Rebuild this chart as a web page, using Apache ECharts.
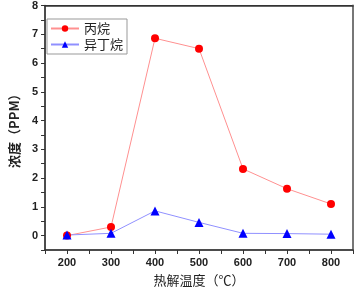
<!DOCTYPE html>
<html>
<head>
<meta charset="utf-8">
<script src="https://cdn.jsdelivr.net/npm/echarts@6/dist/echarts.min.js"></script>
<style>
  html, body { margin: 0; padding: 0; background: #fff; }
  #chart { width: 356px; height: 292px; }
</style>
</head>
<body>
<div id="chart"></div>
<script>
// 热解温度 (℃)
const temps = [200, 300, 400, 500, 600, 700, 800]
// 浓度 (PPM)
const propane = [0, 0.3, 6.86, 6.5, 2.32, 1.63, 1.1]
const isobutane = [0.02, 0.08, 0.86, 0.46, 0.08, 0.07, 0.05]

const cjk = '"Noto Sans CJK SC", sans-serif'
const num = '"Liberation Sans", Arial, sans-serif'

const chart = echarts.init(document.getElementById('chart'))

chart.setOption({
  animation: false,
  grid: {
    left: 33,
    right: 3,
    top: 5,
    bottom: 38,
    show: true,
    borderColor: '#333',
    borderWidth: 1
  },
  legend: {
    orient: 'vertical',
    left: 47,
    top: 19,
    padding: [3, 4, 3, 3],
    itemGap: 3,
    itemWidth: 28,
    itemHeight: 8,
    borderColor: '#999',
    borderWidth: 1,
    textStyle: { fontFamily: cjk, fontSize: 13, color: '#222' },
    data: ['丙烷', '异丁烷']
  },
  xAxis: [{
    type: 'value',
    min: 150,
    max: 850,
    interval: 50,
    name: '热解温度（℃）',
    nameLocation: 'middle',
    nameGap: 24,
    nameTextStyle: { fontFamily: cjk, fontSize: 13, color: '#222' },
    axisLine: { show: true, onZero: false, lineStyle: { color: '#333', width: 1.5 } },
    axisTick: { show: true, inside: false, length: 4, lineStyle: { color: '#333' } },
    axisLabel: {
      margin: 7,
      fontFamily: num,
      fontWeight: 'bold',
      fontSize: 11,
      color: '#222',
      formatter: v => (v % 100 === 0 ? String(v) : '')
    },
    splitLine: { show: false }
  }, {
    type: 'value',
    position: 'top',
    min: 150,
    max: 850,
    axisLine: { show: true, onZero: false, lineStyle: { color: '#333', width: 1.5 } },
    axisTick: { show: false },
    axisLabel: { show: false },
    splitLine: { show: false }
  }],
  yAxis: [{
    type: 'value',
    min: -0.5,
    max: 8,
    interval: 0.5,
    name: '浓度（PPM）',
    nameLocation: 'middle',
    nameGap: 19,
    nameTextStyle: { fontFamily: cjk, fontSize: 13, color: '#222', fontWeight: 'bold' },
    axisLine: { show: true, onZero: false, lineStyle: { color: '#333', width: 1.5 } },
    axisTick: { show: true, inside: false, length: 4, lineStyle: { color: '#333' } },
    axisLabel: {
      margin: 7,
      fontFamily: num,
      fontWeight: 'bold',
      fontSize: 11,
      color: '#222',
      formatter: v => (Number.isInteger(v) ? String(v) : '')
    },
    splitLine: { show: false }
  }, {
    type: 'value',
    position: 'right',
    min: -0.5,
    max: 8,
    axisLine: { show: true, onZero: false, lineStyle: { color: '#777', width: 2 } },
    axisTick: { show: false },
    axisLabel: { show: false },
    splitLine: { show: false }
  }],
  series: [{
    name: '丙烷',
    type: 'line',
    data: temps.map((t, i) => [t, propane[i]]),
    symbol: 'circle',
    symbolSize: 8,
    itemStyle: { color: '#ff0000' },
    lineStyle: { color: '#ff9090', width: 1 }
  }, {
    name: '异丁烷',
    type: 'line',
    data: temps.map((t, i) => [t, isobutane[i]]),
    symbol: 'triangle',
    symbolSize: 9,
    itemStyle: { color: '#0000ff' },
    lineStyle: { color: '#9090ff', width: 1 }
  }]
})
</script>
</body>
</html>
